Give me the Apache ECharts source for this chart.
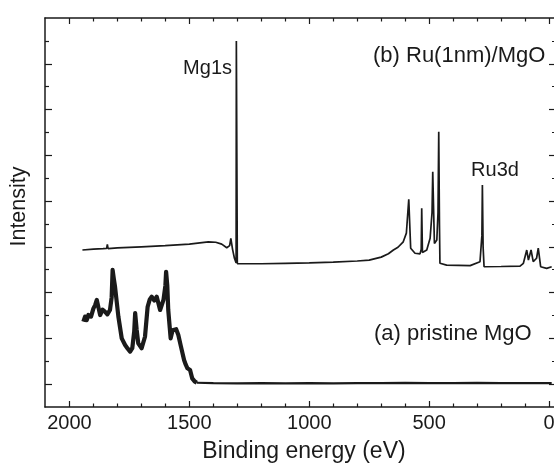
<!DOCTYPE html>
<html>
<head>
<meta charset="utf-8">
<script src="https://cdn.jsdelivr.net/npm/echarts@6/dist/echarts.min.js"></script>
<style>
html,body{margin:0;padding:0;background:#fff;}
#chart{width:554px;height:469px;}
</style>
</head>
<body>
<div id="chart"></div>
<script>
// ---- data (binding energy in eV, intensity in arbitrary units) ----
const energyB = [1946,1900,1860,1845,1842,1839,1800,1700,1601,1500,1421,1390,1365,1344,1332,1327,1320,1312,1305,1304,1302,1300,1296,1200,1100,1000,900,800,750,700,670,649,630,608,595,585,577,559,538,533,531,528,527,510,496,488,485,480,478,468,463,460,457,455,427,329,288,280,278,275,271,200,121,107,93,86,75,66,52,45,35,10,-11];
const intensityB = [6.86,6.90,6.92,6.93,7.11,6.92,6.95,7.00,7.05,7.12,7.22,7.20,7.12,6.96,7.05,7.37,6.90,6.50,6.30,16.0,16.0,6.26,6.24,6.26,6.28,6.30,6.33,6.38,6.42,6.55,6.70,6.86,6.98,7.22,7.60,9.08,6.94,6.72,6.69,6.90,8.68,6.75,6.69,6.86,7.37,8.50,10.28,8.00,7.15,7.30,8.50,12.03,8.00,6.28,6.20,6.18,6.35,7.50,9.70,7.00,6.13,6.14,6.16,6.28,6.86,6.42,6.86,6.35,6.50,6.94,6.13,6.06,6.13];

const energyA = [1942,1935,1928,1921,1910,1900,1893,1886,1878,1872,1862,1852,1842,1831,1824,1820,1815,1810,1796,1782,1768,1757,1747,1738,1730,1726,1720,1713,1699,1685,1674,1665,1657,1646,1636,1622,1608,1600,1597,1592,1588,1578,1570,1564,1555,1546,1535,1522,1515,1508,1497,1488,1478,1469];
const intensityA = [3.73,3.95,3.80,4.02,3.95,4.31,4.45,4.68,4.30,4.02,4.25,4.17,4.05,4.24,4.80,5.99,5.60,5.26,3.95,3.00,2.71,2.55,2.42,2.57,3.30,4.10,3.40,2.78,2.57,3.07,4.38,4.70,4.82,4.65,4.82,4.24,4.68,5.30,5.91,5.30,4.24,3.00,3.35,3.29,3.40,3.15,2.64,2.05,1.85,1.69,1.62,1.25,1.12,1.06];
const energyA2 = [1469,1400,1300,1200,1100,1000,900,800,700,600,500,400,300,200,100,0,-11];
const intensityA2 = [1.06,1.04,1.03,1.04,1.03,1.04,1.03,1.04,1.04,1.05,1.04,1.04,1.05,1.04,1.04,1.04,1.04];

const majorX = [0,500,1000,1500,2000];
const minorX = [100,200,300,400,600,700,800,900,1100,1200,1300,1400,1600,1700,1800,1900];
const majorY = [1,3,5,7,9,11,13,15];
const minorY = [2,4,6,8,10,12,14,16];
const labelTexts = {mg: 'Mg1s', ru: 'Ru3d', b: '(b) Ru(1nm)/MgO', a: '(a) pristine MgO'};

const pairs = (xs, ys) => xs.map((x, i) => [x, ys[i]]);

const FONT = 'Liberation Sans, Arial, Helvetica, sans-serif';
const INK = '#1a1a1a';
const X_MIN = -29, X_MAX = 2102, Y_MIN = 0, Y_MAX = 17;

function xAx(pos, ticks, len, withLine, withLabel) {
  return {
    type: 'value', position: pos, min: X_MIN, max: X_MAX, inverse: true,
    axisLine: {show: withLine, onZero: false, lineStyle: {color: INK, width: 1.5}},
    axisTick: {show: true, inside: true, length: len, customValues: ticks, lineStyle: {color: INK, width: 1.2}},
    axisLabel: withLabel ? {show: true, customValues: majorX, fontSize: 20, margin: 6, color: INK, fontFamily: FONT,
      formatter: (v) => String(v)} : {show: false},
    splitLine: {show: false}
  };
}
function yAx(pos, ticks, len, withLine) {
  return {
    type: 'value', position: pos, min: Y_MIN, max: Y_MAX,
    axisLine: {show: withLine, onZero: false, lineStyle: {color: INK, width: 1.5}},
    axisTick: {show: true, inside: true, length: len, customValues: ticks, lineStyle: {color: INK, width: 1.2}},
    axisLabel: {show: false},
    splitLine: {show: false}
  };
}

const xAxes = [
  Object.assign(xAx('bottom', majorX, 6, true, true), {
    name: 'Binding energy (eV)', nameLocation: 'middle', nameGap: 33,
    nameTextStyle: {fontSize: 23, color: INK, fontFamily: FONT, padding: [0, 0, 0, 7]}
  }),
  xAx('bottom', minorX, 3.5, false, false),
  xAx('top', majorX, 6, true, false),
  xAx('top', minorX, 3.5, false, false)
];
const yAxes = [
  Object.assign(yAx('left', majorY, 7, true), {
    name: 'Intensity', nameLocation: 'middle', nameGap: 15, nameRotate: 90,
    nameTextStyle: {fontSize: 21.5, color: INK, fontFamily: FONT, padding: [0, 0, 0, 12]}
  }),
  yAx('left', minorY, 4, false),
  yAx('right', majorY, 7, true),
  yAx('right', minorY, 4, false)
];

const chart = echarts.init(document.getElementById('chart'), null, {renderer: 'canvas'});
chart.setOption({
  animation: false,
  backgroundColor: '#fff',
  grid: {left: 45, width: 511, top: 18, height: 389, containLabel: false, outerBoundsMode: 'none'},
  xAxis: xAxes,
  yAxis: yAxes,
  series: [
    {type: 'line', xAxisIndex: 0, yAxisIndex: 0, data: pairs(energyB, intensityB), showSymbol: false,
     lineStyle: {color: INK, width: 1.7}, clip: true},
    {type: 'line', xAxisIndex: 0, yAxisIndex: 0, data: pairs(energyA, intensityA), showSymbol: false,
     lineStyle: {color: INK, width: 4.2, join: 'round'}, clip: true},
    {type: 'line', xAxisIndex: 0, yAxisIndex: 0, data: pairs(energyA2, intensityA2), showSymbol: false,
     lineStyle: {color: INK, width: 2.2}, clip: true}
  ],
  graphic: [
    {type: 'text', style: {text: labelTexts.mg, x: 232, y: 68, textAlign: 'right', textVerticalAlign: 'middle', fontSize: 20, fontFamily: FONT, fill: INK}},
    {type: 'text', style: {text: labelTexts.ru, x: 495, y: 170, textAlign: 'center', textVerticalAlign: 'middle', fontSize: 20, fontFamily: FONT, fill: INK}},
    {type: 'text', style: {text: labelTexts.b, x: 373, y: 56, textAlign: 'left', textVerticalAlign: 'middle', fontSize: 22, fontFamily: FONT, fill: INK}},
    {type: 'text', style: {text: labelTexts.a, x: 374, y: 334, textAlign: 'left', textVerticalAlign: 'middle', fontSize: 22, fontFamily: FONT, fill: INK}}
  ]
});
</script>
</body>
</html>
